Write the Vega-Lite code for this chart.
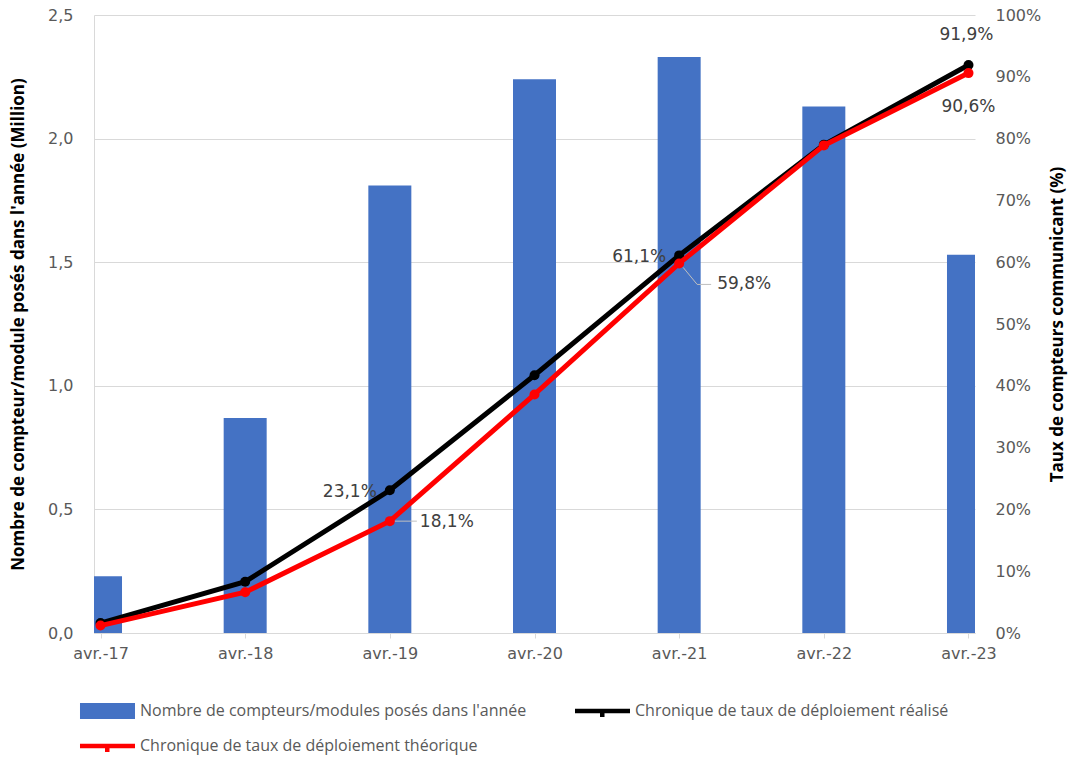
{
  "$schema": "https://vega.github.io/schema/vega-lite/v6.json",
  "width": 881,
  "height": 618,
  "autosize": {"type": "none"},
  "padding": {"left": 94, "top": 15, "right": 104, "bottom": 125},
  "background": "#ffffff",
  "config": {
    "view": {"stroke": null},
    "font": "DejaVu Sans",
    "axis": {"labelFont": "DejaVu Sans", "titleFont": "Open Sans"},
    "legend": {"labelFont": "Open Sans"}
  },
  "datasets": {
    "compteurs": [
      {"date": "avr.-17", "compteurs": 0.23},
      {"date": "avr.-18", "compteurs": 0.87},
      {"date": "avr.-19", "compteurs": 1.81},
      {"date": "avr.-20", "compteurs": 2.24},
      {"date": "avr.-21", "compteurs": 2.33},
      {"date": "avr.-22", "compteurs": 2.13},
      {"date": "avr.-23", "compteurs": 1.53}
    ],
    "taux": [
      {"date": "avr.-17", "serie": "Chronique de taux de déploiement réalisé", "taux": 1.6, "label": ""},
      {"date": "avr.-18", "serie": "Chronique de taux de déploiement réalisé", "taux": 8.3, "label": ""},
      {"date": "avr.-19", "serie": "Chronique de taux de déploiement réalisé", "taux": 23.1, "label": "23,1%"},
      {"date": "avr.-20", "serie": "Chronique de taux de déploiement réalisé", "taux": 41.7, "label": ""},
      {"date": "avr.-21", "serie": "Chronique de taux de déploiement réalisé", "taux": 61.1, "label": "61,1%"},
      {"date": "avr.-22", "serie": "Chronique de taux de déploiement réalisé", "taux": 79.0, "label": ""},
      {"date": "avr.-23", "serie": "Chronique de taux de déploiement réalisé", "taux": 91.9, "label": "91,9%"},
      {"date": "avr.-17", "serie": "Chronique de taux de déploiement théorique", "taux": 1.2, "label": ""},
      {"date": "avr.-18", "serie": "Chronique de taux de déploiement théorique", "taux": 6.6, "label": ""},
      {"date": "avr.-19", "serie": "Chronique de taux de déploiement théorique", "taux": 18.1, "label": "18,1%"},
      {"date": "avr.-20", "serie": "Chronique de taux de déploiement théorique", "taux": 38.6, "label": ""},
      {"date": "avr.-21", "serie": "Chronique de taux de déploiement théorique", "taux": 59.8, "label": "59,8%"},
      {"date": "avr.-22", "serie": "Chronique de taux de déploiement théorique", "taux": 78.9, "label": ""},
      {"date": "avr.-23", "serie": "Chronique de taux de déploiement théorique", "taux": 90.6, "label": "90,6%"}
    ]
  },
  "encoding": {
    "x": {
      "field": "date",
      "type": "ordinal",
      "sort": ["avr.-17", "avr.-18", "avr.-19", "avr.-20", "avr.-21", "avr.-22", "avr.-23"],
      "scale": {"type": "point", "padding": 0.045},
      "axis": {
        "title": null,
        "labelAngle": 0,
        "labelFontSize": 16,
        "labelColor": "#595959",
        "domainColor": "#d9d9d9",
        "tickColor": "#d9d9d9",
        "tickSize": 5,
        "labelPadding": 7,
        "grid": false
      }
    }
  },
  "layer": [
    {
      "data": {"name": "compteurs"},
      "mark": {"type": "bar", "size": 43, "clip": true},
      "encoding": {
        "y": {
          "field": "compteurs",
          "type": "quantitative",
          "scale": {"domain": [0, 2.5], "nice": false},
          "axis": {
            "orient": "left",
            "title": "Nombre de compteur/module posés dans l'année (Million)",
            "titleFontSize": 17,
            "titleFontWeight": "bold",
            "titleColor": "#000000",
            "titlePadding": 20,
            "values": [0, 0.5, 1, 1.5, 2, 2.5],
            "labelExpr": "replace(format(datum.value, '.1f'), '.', ',')",
            "labelFontSize": 16,
            "labelColor": "#595959",
            "labelPadding": 21,
            "ticks": false,
            "domain": true,
            "domainColor": "#d9d9d9",
            "grid": true,
            "gridColor": "#d9d9d9"
          }
        },
        "color": {
          "datum": "Nombre de compteurs/modules posés dans l'année",
          "type": "nominal",
          "title": null,
          "scale": {
            "domain": ["Nombre de compteurs/modules posés dans l'année", "Chronique de taux de déploiement réalisé", "Chronique de taux de déploiement théorique"],
            "range": ["#4472C4", "#000000", "#FF0000"]
          },
          "legend": {
            "title": null,
            "orient": "none",
            "legendX": 11,
            "legendY": 681,
            "direction": "horizontal",
            "columns": 2,
            "columnPadding": 47,
            "rowPadding": 12,
            "padding": 0,
            "symbolSize": 900,
            "symbolStrokeWidth": 0,
            "labelFontSize": 16,
            "labelColor": "#595959",
            "labelOffset": 5,
            "labelLimit": 600,
            "encode": {
              "symbols": {
                "update": {
                  "shape": {"signal": "indexof(datum.value, 'Nombre') === 0 ? 'M-2.667,-0.533H1V0.533H-2.667Z' : 'M-2.667,-0.15H1V0.15H-2.667Z M-1.0,0.1H-0.7V0.4H-1.0Z'"},
                  "fill": {"scale": "color", "field": "value"},
                  "stroke": {"value": "transparent"},
                  "strokeWidth": {"value": 0},
                  "opacity": {"value": 1}
                }
              }
            }
          }
        }
      }
    },
    {
      "data": {"name": "taux"},
      "encoding": {
        "y": {
          "field": "taux",
          "type": "quantitative",
          "scale": {"domain": [0, 100], "nice": false},
          "axis": {
            "orient": "right",
            "title": "Taux de compteurs communicant (%)",
            "titleFontSize": 17,
            "titleFontWeight": "bold",
            "titleColor": "#000000",
            "titleAngle": 270,
            "titlePadding": 26,
            "values": [0, 10, 20, 30, 40, 50, 60, 70, 80, 90, 100],
            "labelExpr": "datum.value + '%'",
            "labelFontSize": 16,
            "labelColor": "#595959",
            "labelPadding": 20,
            "ticks": false,
            "domain": false,
            "grid": false
          }
        }
      },
      "layer": [
        {
          "transform": [{"filter": "datum.serie === 'Chronique de taux de déploiement réalisé'"}],
          "mark": {"type": "line", "strokeWidth": 5, "point": {"filled": true, "size": 100}},
          "encoding": {
            "color": {"field": "serie", "type": "nominal", "title": null}
          }
        },
        {
          "transform": [{"filter": "datum.serie === 'Chronique de taux de déploiement théorique'"}],
          "mark": {"type": "line", "strokeWidth": 5, "point": {"filled": true, "size": 100}},
          "encoding": {
            "color": {"field": "serie", "type": "nominal", "title": null}
          }
        },
        {
          "transform": [{"filter": "datum.serie === 'Chronique de taux de déploiement théorique' && datum.date === 'avr.-19'"}],
          "mark": {"type": "rule", "color": "#bfbfbf", "strokeWidth": 1, "xOffset": 5, "x2Offset": 27},
          "encoding": {
            "x2": {"field": "date"},
            "y2": {"field": "taux"}
          }
        },
        {
          "transform": [{"filter": "datum.serie === 'Chronique de taux de déploiement théorique' && datum.date === 'avr.-21'"}],
          "mark": {"type": "rule", "color": "#bfbfbf", "strokeWidth": 1, "xOffset": 4, "yOffset": 4, "x2Offset": 18, "y2Offset": 21},
          "encoding": {
            "x2": {"field": "date"},
            "y2": {"field": "taux"}
          }
        },
        {
          "transform": [{"filter": "datum.serie === 'Chronique de taux de déploiement théorique' && datum.date === 'avr.-21'"}],
          "mark": {"type": "rule", "color": "#bfbfbf", "strokeWidth": 1, "xOffset": 18, "yOffset": 21, "x2Offset": 32, "y2Offset": 21},
          "encoding": {
            "x2": {"field": "date"},
            "y2": {"field": "taux"}
          }
        },
        {
          "transform": [{"filter": "datum.serie === 'Chronique de taux de déploiement réalisé' && (datum.date === 'avr.-19' || datum.date === 'avr.-21')"}],
          "mark": {"type": "text", "align": "right", "baseline": "middle", "dx": -13, "dy": 2, "fontSize": 17, "color": "#404040"},
          "encoding": {"text": {"field": "label"}}
        },
        {
          "transform": [{"filter": "datum.serie === 'Chronique de taux de déploiement réalisé' && datum.date === 'avr.-23'"}],
          "mark": {"type": "text", "align": "center", "baseline": "middle", "dx": -2, "dy": -30, "fontSize": 17, "color": "#404040"},
          "encoding": {"text": {"field": "label"}}
        },
        {
          "transform": [{"filter": "datum.serie === 'Chronique de taux de déploiement théorique' && datum.date === 'avr.-19'"}],
          "mark": {"type": "text", "align": "left", "baseline": "middle", "dx": 30, "dy": 1, "fontSize": 17, "color": "#404040"},
          "encoding": {"text": {"field": "label"}}
        },
        {
          "transform": [{"filter": "datum.serie === 'Chronique de taux de déploiement théorique' && datum.date === 'avr.-21'"}],
          "mark": {"type": "text", "align": "left", "baseline": "middle", "dx": 38, "dy": 21, "fontSize": 17, "color": "#404040"},
          "encoding": {"text": {"field": "label"}}
        },
        {
          "transform": [{"filter": "datum.serie === 'Chronique de taux de déploiement théorique' && datum.date === 'avr.-23'"}],
          "mark": {"type": "text", "align": "center", "baseline": "middle", "dx": 0, "dy": 34, "fontSize": 17, "color": "#404040"},
          "encoding": {"text": {"field": "label"}}
        }
      ]
    }
  ],
  "resolve": {"scale": {"y": "independent"}}
}
